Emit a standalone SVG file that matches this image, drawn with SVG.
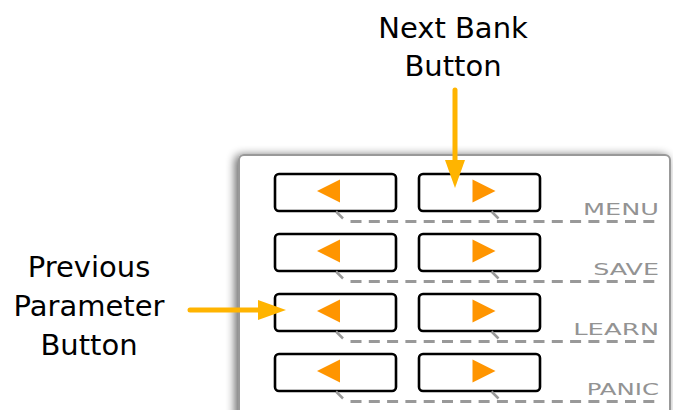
<svg xmlns="http://www.w3.org/2000/svg" width="673" height="410" viewBox="0 0 673 410">
<defs>
<style>
.btn{fill:#fff;stroke:#000;stroke-width:2.6}
.tri{fill:#ff9500}
.tick{stroke:#999;stroke-width:2.5;fill:none}
.dash{stroke:#999;stroke-width:3;fill:none;stroke-dasharray:11 7.3}
.lbl{font-family:"DejaVu Sans","Liberation Sans",sans-serif;font-size:16.5px;fill:#939393;text-anchor:end}
.ann{font-family:"DejaVu Sans","Liberation Sans",sans-serif;font-size:29px;fill:#000;text-anchor:middle}
.arr{stroke:#ffb400;stroke-width:5;stroke-linecap:round;fill:none}
.head{fill:#ffb400}
</style>
<filter id="sh" x="-10%" y="-10%" width="120%" height="120%">
<feGaussianBlur in="SourceAlpha" stdDeviation="5"/>
<feOffset dx="-3" dy="1" result="b"/>
<feComponentTransfer><feFuncA type="linear" slope="0.6"/></feComponentTransfer>
<feMerge><feMergeNode/><feMergeNode in="SourceGraphic"/></feMerge>
</filter>
</defs>
<rect width="673" height="410" fill="#fff"/>
<g id="panel">
<rect x="239" y="155" width="431" height="300" rx="5" fill="#fff" stroke="#999" stroke-width="2" filter="url(#sh)"/>
</g>
<g id="row-menu">
<rect class="btn" x="275" y="174" width="121" height="37" rx="4"/>
<polygon class="tri" points="317,191 340,179.5 340,202.5"/>
<rect class="btn" x="419" y="174" width="121" height="37" rx="4"/>
<polygon class="tri" points="472.5,179.5 472.5,202.5 495.5,191"/>
<line class="tick" x1="336" y1="211.5" x2="343" y2="218.5"/>
<line class="tick" x1="491.5" y1="211.5" x2="498.5" y2="218.5"/>
<line class="dash" x1="350.5" y1="221.5" x2="660" y2="221.5"/>
<text class="lbl" transform="translate(659,215) scale(1.55,1)">MENU</text>
</g>
<g id="row-save">
<rect class="btn" x="275" y="234" width="121" height="37" rx="4"/>
<polygon class="tri" points="317,251 340,239.5 340,262.5"/>
<rect class="btn" x="419" y="234" width="121" height="37" rx="4"/>
<polygon class="tri" points="472.5,239.5 472.5,262.5 495.5,251"/>
<line class="tick" x1="336" y1="271.5" x2="343" y2="278.5"/>
<line class="tick" x1="491.5" y1="271.5" x2="498.5" y2="278.5"/>
<line class="dash" x1="350.5" y1="281.5" x2="660" y2="281.5"/>
<text class="lbl" transform="translate(659,275) scale(1.54,1)">SAVE</text>
</g>
<g id="row-learn">
<rect class="btn" x="275" y="294" width="121" height="37" rx="4"/>
<polygon class="tri" points="317,311 340,299.5 340,322.5"/>
<rect class="btn" x="419" y="294" width="121" height="37" rx="4"/>
<polygon class="tri" points="472.5,299.5 472.5,322.5 495.5,311"/>
<line class="tick" x1="336" y1="331.5" x2="343" y2="338.5"/>
<line class="tick" x1="491.5" y1="331.5" x2="498.5" y2="338.5"/>
<line class="dash" x1="350.5" y1="341.5" x2="660" y2="341.5"/>
<text class="lbl" transform="translate(659,335) scale(1.57,1)">LEARN</text>
</g>
<g id="row-panic">
<rect class="btn" x="275" y="354" width="121" height="37" rx="4"/>
<polygon class="tri" points="317,371 340,359.5 340,382.5"/>
<rect class="btn" x="419" y="354" width="121" height="37" rx="4"/>
<polygon class="tri" points="472.5,359.5 472.5,382.5 495.5,371"/>
<line class="tick" x1="336" y1="391.5" x2="343" y2="398.5"/>
<line class="tick" x1="491.5" y1="391.5" x2="498.5" y2="398.5"/>
<line class="dash" x1="350.5" y1="401.5" x2="660" y2="401.5"/>
<text class="lbl" transform="translate(659,395) scale(1.48,1)">PANIC</text>
</g>
<g id="label-next">
<text class="ann" x="453" y="37.5">Next Bank</text>
<text class="ann" x="453" y="76">Button</text>
</g>
<g id="label-prev">
<text class="ann" x="89" y="277">Previous</text>
<text class="ann" x="89" y="316">Parameter</text>
<text class="ann" x="89" y="355">Button</text>
</g>
<g id="connectors">
<line class="arr" x1="455" y1="90" x2="455" y2="162"/>
<polygon class="head" points="445,160 465,160 455,188"/>
<line class="arr" x1="190" y1="310" x2="260" y2="310"/>
<polygon class="head" points="258,300 258,320 286,310"/>
</g>
</svg>
